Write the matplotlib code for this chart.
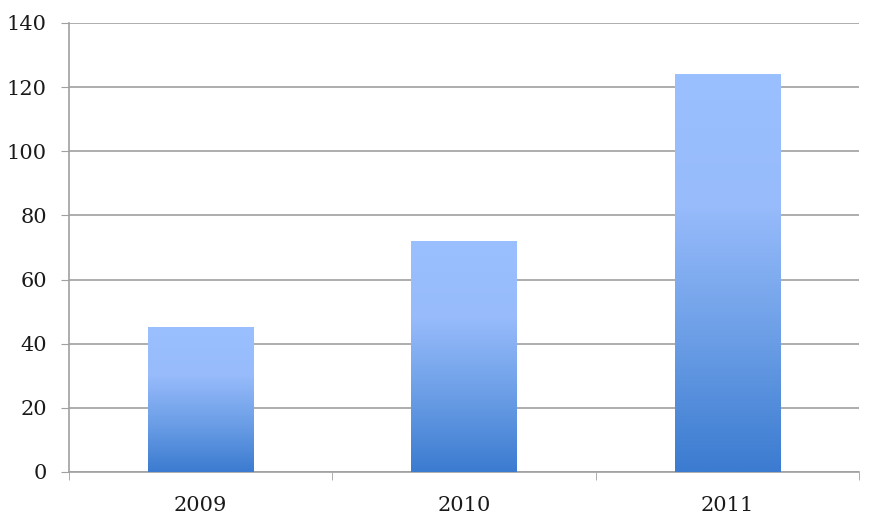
import numpy as np
import matplotlib
matplotlib.use('Agg')
import matplotlib.pyplot as plt
from matplotlib.colors import LinearSegmentedColormap


# Data
years = ['2009', '2010', '2011']
values = [45, 72, 124]
yticks = [0, 20, 40, 60, 80, 100, 120, 140]

plt.rcParams['font.family'] = ['DejaVu Serif']

fig = plt.figure(figsize=(8.76, 5.27), dpi=100)
ax = fig.add_axes([0.0788, 0.1044, 0.9018, 0.852])

x = np.arange(len(years))
width = 0.4

# gradient per bar: dark blue at bottom, light blue on top
cmap = LinearSegmentedColormap.from_list('bar', ['#3b7bd0', '#6b9ee6', '#97bbfb', '#9ac0ff'])
grad = np.linspace(0, 1, 256).reshape(-1, 1)

bars = ax.bar(x, values, width=width, color='none', edgecolor='none', zorder=3)
for b in bars:
    x0, y0 = b.get_x(), b.get_y()
    w, h = b.get_width(), b.get_height()
    ax.imshow(grad, cmap=cmap, origin='lower', aspect='auto',
              extent=[x0, x0 + w, y0, y0 + h], zorder=3)

ax.set_xlim(-0.5, len(years) - 0.5)
ax.set_ylim(0, 140)
ax.set_yticks(yticks)
ax.set_yticklabels([str(t) for t in yticks])
ax.set_xticks(x)
ax.set_xticklabels(years)

# category boundary tick marks
ax.set_xticks(np.arange(-0.5, len(years)), minor=True)
ax.tick_params(axis='x', which='major', length=0, pad=17, labelsize=15, colors='#1a1a1a')
ax.tick_params(axis='x', which='minor', length=6, color='#a0a0a0', direction='out')
ax.tick_params(axis='y', length=6, color='#a0a0a0', pad=10, labelsize=15, labelcolor='#1a1a1a')

ax.grid(axis='y', color='#a0a0a0', linewidth=1.2, zorder=0)
ax.set_axisbelow(True)

for s in ['top', 'right']:
    ax.spines[s].set_visible(False)
for s in ['left', 'bottom']:
    ax.spines[s].set_color('#a0a0a0')
    ax.spines[s].set_linewidth(1.2)

plt.savefig('out.png', dpi=100)
